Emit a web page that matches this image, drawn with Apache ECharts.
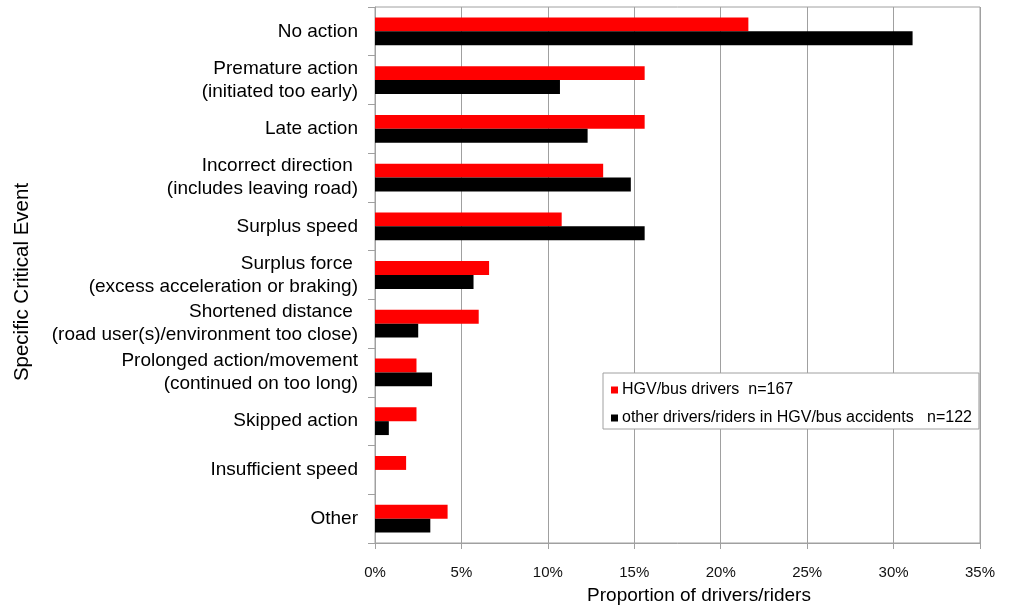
<!DOCTYPE html>
<html>
<head>
<meta charset="utf-8">
<script src="https://cdn.jsdelivr.net/npm/echarts@6/dist/echarts.min.js"></script>
<style>
html,body{margin:0;padding:0;background:#fff;}
#chart{width:1012px;height:607px;}
</style>
</head>
<body>
<div id="chart"></div>
<script>
var categories = [
  "No action",
  "Premature action\n(initiated too early)",
  "Late action",
  "Incorrect direction \n(includes leaving road)",
  "Surplus speed",
  "Surplus force \n(excess acceleration or braking)",
  "Shortened distance \n(road user(s)/environment too close)",
  "Prolonged action/movement\n(continued on too long)",
  "Skipped action",
  "Insufficient speed",
  "Other"
];
var hgvValues = [21.6, 15.6, 15.6, 13.2, 10.8, 6.6, 6.0, 2.4, 2.4, 1.8, 4.2];
var otherValues = [31.1, 10.7, 12.3, 14.8, 15.6, 5.7, 2.5, 3.3, 0.8, 0, 3.2];
var seriesNames = ["HGV/bus drivers  n=167", "other drivers/riders in HGV/bus accidents   n=122"];
var xTicks = [0, 5, 10, 15, 20, 25, 30, 35];

var FONT = "Liberation Sans, Arial, sans-serif";
var GRIDC = "#a0a0a0";
var chart = echarts.init(document.getElementById('chart'), null, {renderer: 'canvas'});
chart.setOption({
  animation: false,
  backgroundColor: '#fff',
  textStyle: {fontFamily: FONT},
  grid: {left: 375, right: 32, top: 7, bottom: 64, show: true, borderColor: GRIDC, borderWidth: 1, backgroundColor: 'transparent', containLabel: false, outerBoundsMode: 'none'},
  legend: {
    orient: 'vertical',
    left: 603, top: 373,
    padding: [9, 7, 3, 8],
    itemGap: 12,
    itemWidth: 7, itemHeight: 7,
    icon: 'rect',
    borderColor: GRIDC, borderWidth: 1,
    backgroundColor: '#fff',
    textStyle: {fontSize: 16, color: '#000', fontFamily: FONT, padding: [0, 0, 0, -1]},
    data: seriesNames
  },
  xAxis: {
    type: 'value',
    min: xTicks[0], max: xTicks[xTicks.length - 1], interval: 5,
    name: 'Proportion of drivers/riders',
    nameLocation: 'middle',
    nameGap: 43,
    nameTextStyle: {fontSize: 19, color: '#000', fontFamily: FONT, padding: [0, 0, 0, 43]},
    axisLine: {show: true, lineStyle: {color: GRIDC, width: 1}},
    axisTick: {show: true, length: 6, lineStyle: {color: GRIDC}},
    axisLabel: {formatter: '{value}%', fontSize: 15, color: '#111', margin: 22, fontFamily: FONT},
    splitLine: {show: true, lineStyle: {color: GRIDC, width: 1}}
  },
  yAxis: {
    type: 'category',
    inverse: true,
    data: categories,
    name: 'Specific Critical Event',
    nameLocation: 'middle',
    nameGap: 342,
    nameRotate: 90,
    nameTextStyle: {fontSize: 20.5, color: '#000', fontFamily: FONT, padding: [0, 14, 0, 0]},
    axisLine: {show: true, lineStyle: {color: GRIDC, width: 1}},
    axisTick: {show: true, length: 7, alignWithLabel: false, lineStyle: {color: GRIDC}},
    axisLabel: {fontSize: 19, color: '#000', margin: 17, lineHeight: 23, align: 'right', fontFamily: FONT, interval: 0, padding: [10, 0, 0, 0]},
    splitLine: {show: false}
  },
  series: [
    {name: seriesNames[0], type: 'bar', data: hgvValues, itemStyle: {color: '#ff0000'}, barGap: '0%', barCategoryGap: '43%'},
    {name: seriesNames[1], type: 'bar', data: otherValues, itemStyle: {color: '#000000'}, barGap: '0%', barCategoryGap: '43%'}
  ]
});
</script>
</body>
</html>
